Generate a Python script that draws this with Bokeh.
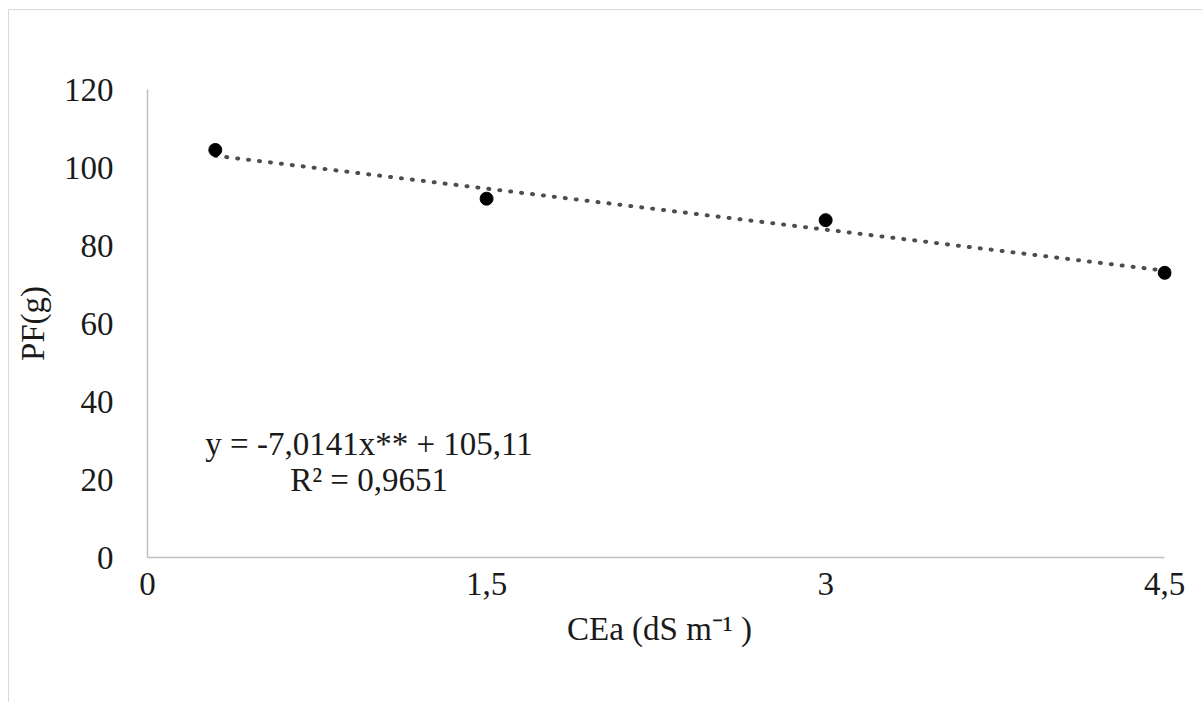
from bokeh.plotting import figure
from bokeh.models import Range1d, FixedTicker, Label
from bokeh.embed import file_html
from bokeh.resources import INLINE

# data
cea = [0.3, 1.5, 3.0, 4.5]
pf = [104.5, 92.0, 86.5, 73.0]
x_ticks = [0, 1.5, 3, 4.5]
x_tick_labels = {0: "0", 1.5: "1,5", 3: "3", 4.5: "4,5"}
y_ticks = [0, 20, 40, 60, 80, 100, 120]
slope = -7.0141
intercept = 105.11
trend_x = [cea[0], cea[-1]]
trend_y = [slope * v + intercept for v in trend_x]
eq_text = "y = -7,0141x** + 105,11"
r2_text = "R² = 0,9651"

FONT = "Liberation Serif"
TXT = "#1a1a1a"
FS = "33px"

p = figure(width=1194, height=693, output_backend="svg", toolbar_location=None,
           x_range=Range1d(0, 4.53), y_range=Range1d(0, 120),
           min_border_left=138, min_border_right=32, min_border_top=79, min_border_bottom=146)
p.margin = (9, 0, 0, 8)
p.styles = {"border-left": "1px solid #d9d9d9", "border-top": "1px solid #d9d9d9"}
p.outline_line_color = None
p.grid.grid_line_color = None
p.background_fill_color = "white"
p.border_fill_color = "white"

p.line(trend_x, trend_y, line_color="#4d4d4d", line_width=4, line_dash="1 10", line_cap="round")
p.scatter(cea, pf, size=13, color="black")

for ax in (p.xaxis[0], p.yaxis[0]):
    ax.axis_line_color = "#bfbfbf"
    ax.axis_line_width = 1.5
    ax.major_tick_line_color = None
    ax.minor_tick_line_color = None
    ax.major_label_text_font = FONT
    ax.major_label_text_font_size = FS
    ax.major_label_text_color = TXT
    ax.axis_label_text_font = FONT
    ax.axis_label_text_font_size = FS
    ax.axis_label_text_font_style = "normal"
    ax.axis_label_text_color = TXT

p.xaxis.bounds = (0, 4.5)
p.xaxis.ticker = FixedTicker(ticks=x_ticks)
p.xaxis.major_label_overrides = x_tick_labels
p.xaxis.major_label_standoff = 9
p.xaxis.axis_label = "CEa (dS m⁻¹ )"
p.xaxis.axis_label_standoff = 13

p.yaxis.ticker = FixedTicker(ticks=y_ticks)
p.yaxis.major_label_standoff = 28
p.yaxis.axis_label = "PF(g)"
p.yaxis.axis_label_standoff = 10

p.add_layout(Label(x=0.98, y=29, text=eq_text, text_align="center", text_baseline="middle",
                   text_font=FONT, text_font_size=FS, text_color=TXT))
p.add_layout(Label(x=0.98, y=20, text=r2_text, text_align="center", text_baseline="middle",
                   text_font=FONT, text_font_size=FS, text_color=TXT))

open("out.html", "w").write(file_html(p, INLINE))
